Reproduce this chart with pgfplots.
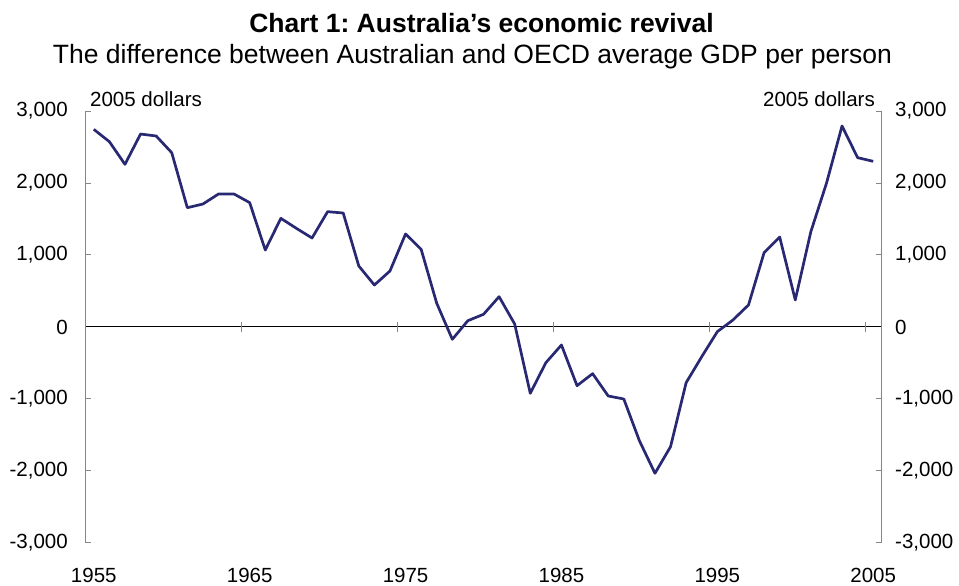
\documentclass[border=0pt]{standalone}
\usepackage{pgfplots}
\pgfplotsset{compat=1.18}
\usepackage{fontspec}
\setmainfont{Liberation Sans}
\frenchspacing
\definecolor{navy}{RGB}{40,40,115}
\definecolor{axgray}{RGB}{134,134,134}

\begin{document}
\begin{tikzpicture}
\begin{axis}[
	scale only axis,
	width=795pt, height=432pt,
	xmin=1954.5, xmax=2005.5,
	ymin=-3000, ymax=3000,
	axis line style={draw=none},
	xtick={1955,1965,1975,1985,1995,2005},
	xticklabels={1955,1965,1975,1985,1995,2005},
	x tick style={draw=none},
	xticklabel style={anchor=base, inner sep=0pt, yshift=-40pt},
	ytick={-3000,-2000,-1000,0,1000,2000,3000},
	yticklabels={{-3,000},{-2,000},{-1,000},0,{1,000},{2,000},{3,000}},
	ytick pos=both,
	yticklabel pos=left,
	tick align=inside,
	major tick length=5pt,
	y tick style={axgray, line width=1pt},
	yticklabel style={anchor=east, inner sep=0pt, xshift=-18pt},
	tick label style={font=\fontsize{20.5}{24}\selectfont},
	clip=false,
]
\draw[axgray, line width=1pt] (rel axis cs:0,0) -- (rel axis cs:0,1);
\draw[axgray, line width=1pt] (rel axis cs:1,0) -- (rel axis cs:1,1);
\draw[black, line width=1pt] (axis cs:1954.5,0) -- (axis cs:2005.5,0);
\pgfplotsinvokeforeach{1964.5,1974.5,1984.5,1994.5,2004.5}{
	\draw[axgray, line width=1pt] ([yshift=-5pt]axis cs:#1,0) -- ([yshift=5pt]axis cs:#1,0);
}
\addplot[navy, line width=2.7pt, line join=round, mark=none] coordinates {
(1955,2745) (1956,2574) (1957,2259) (1958,2680) (1959,2653)
(1960,2421) (1961,1657) (1962,1708) (1963,1847) (1964,1847)
(1965,1727) (1966,1069) (1967,1509) (1968,1370) (1969,1236)
(1970,1602) (1971,1583) (1972,847) (1973,583) (1974,778)
(1975,1292) (1976,1079) (1977,329) (1978,-171) (1979,88)
(1980,176) (1981,421) (1982,42) (1983,-921) (1984,-496)
(1985,-250) (1986,-815) (1987,-648) (1988,-958) (1989,-1000)
(1990,-1579) (1991,-2032) (1992,-1662) (1993,-773) (1994,-412)
(1995,-65) (1996,97) (1997,306) (1998,1032) (1999,1250)
(2000,375) (2001,1324) (2002,1995) (2003,2792) (2004,2352)
(2005,2301)
};
\end{axis}
\begin{axis}[
	scale only axis,
	width=795pt, height=432pt,
	xmin=1954.5, xmax=2005.5,
	ymin=-3000, ymax=3000,
	axis line style={draw=none},
	xtick=\empty,
	ytick={-3000,-2000,-1000,0,1000,2000,3000},
	yticklabels={{-3,000},{-2,000},{-1,000},0,{1,000},{2,000},{3,000}},
	ytick pos=right,
	yticklabel pos=right,
	y tick style={draw=none},
	yticklabel style={anchor=west, inner sep=0pt, xshift=14pt},
	tick label style={font=\fontsize{20.5}{24}\selectfont},
]
\end{axis}
\node[anchor=base, font=\bfseries\fontsize{26.5}{30}\selectfont, inner sep=0pt] at (395.5pt,510pt) {Chart 1: Australia’s economic revival};
\node[anchor=base, font=\fontsize{26.5}{30}\selectfont, inner sep=0pt] at (386.5pt,479pt) {The difference between Australian and OECD average GDP per person};
\node[anchor=base west, font=\fontsize{20.5}{24}\selectfont, inner sep=0pt] at (4pt,436pt) {2005 dollars};
\node[anchor=base east, font=\fontsize{20.5}{24}\selectfont, inner sep=0pt] at (789pt,436pt) {2005 dollars};
\pgfresetboundingbox
\path (-86pt,-43pt) rectangle (873pt,543pt);
\end{tikzpicture}
\end{document}
